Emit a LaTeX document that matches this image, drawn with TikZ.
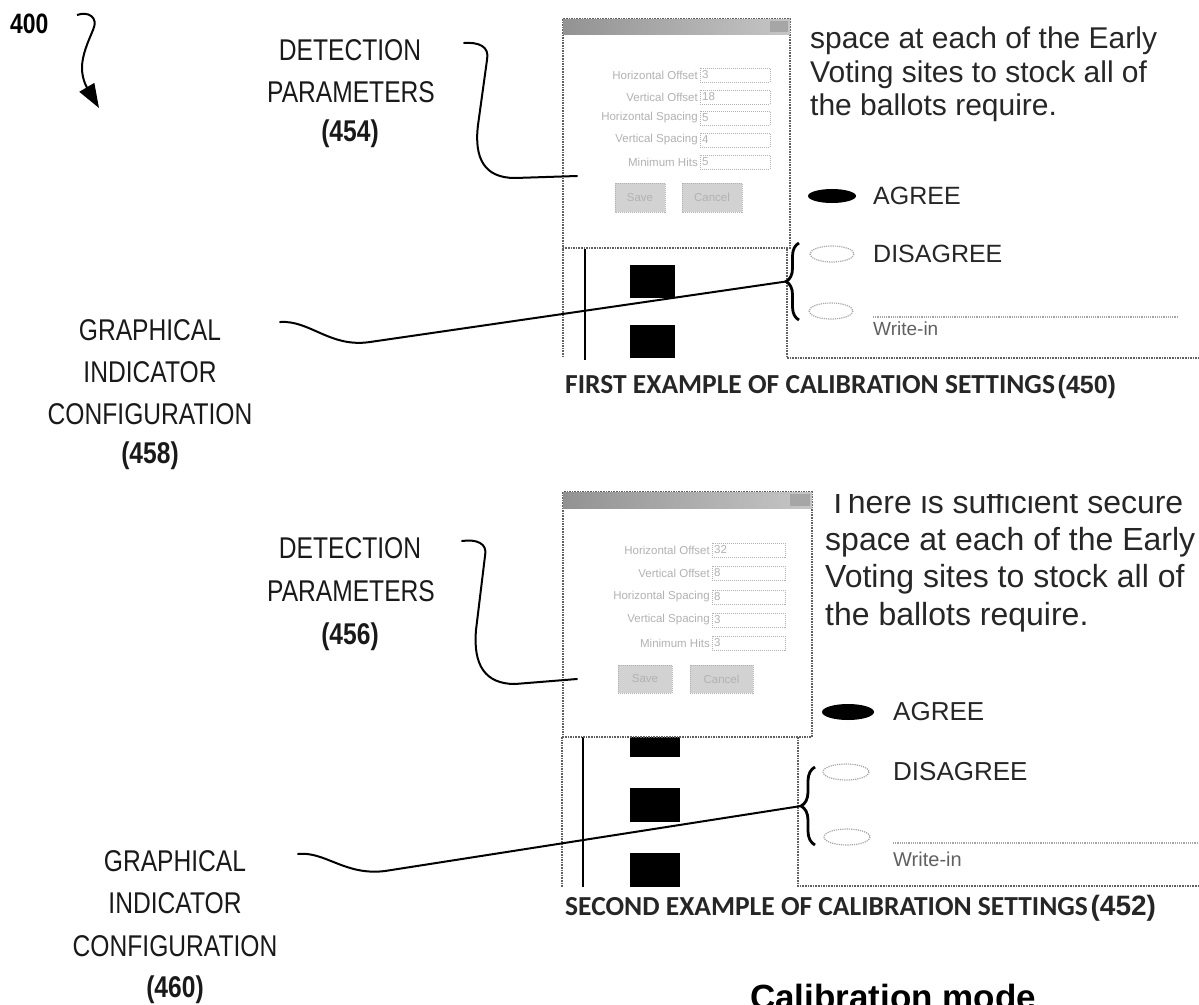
\documentclass[tikz,border=0pt]{standalone}
\usepackage{fontspec}
\setmainfont{Liberation Sans}
\newfontfamily\labelfont[FakeStretch=0.82]{Liberation Sans}
\newfontfamily\capfont{Carlito}
\usetikzlibrary{arrows.meta,decorations.pathreplacing}

\begin{document}
\begin{tikzpicture}[x=1pt,y=-1pt,
  frame/.style={draw=gray!75!black, densely dotted, line width=1.6},
  conn/.style={draw=black, line width=2, line cap=round, line join=round},
  blk/.style={fill=black},
  field/.style={draw=gray!60, densely dotted, line width=1},
  btn/.style={fill=gray!35, draw=gray!60, densely dotted, line width=1},
  tiny/.style={font=\fontsize{11.5}{11.5}\selectfont, text=gray!60, inner sep=0},
  lbl/.style={font=\labelfont\fontsize{30}{30}\selectfont, inner sep=0, text=black!90},
  lblb/.style={font=\labelfont\bfseries\fontsize{30}{30}\selectfont, inner sep=0, text=black!90},
  ballotA/.style={font=\fontsize{30}{30}\selectfont, inner sep=0, anchor=base west, text=black!85},
  ballotB/.style={font=\fontsize{32}{32}\selectfont, inner sep=0, anchor=base west, text=black!85},
  choiceA/.style={font=\fontsize{25}{25}\selectfont, inner sep=0, anchor=west, text=black!85},
  choiceB/.style={font=\fontsize{26}{26}\selectfont, inner sep=0, anchor=west, text=black!85},
  caption/.style={inner sep=0, anchor=base west, text=black!85},
  brace/.style={decorate, line width=2.8, draw=black},
]
\useasboundingbox (0,0) rectangle (1199,1004);

% ---------- reference numeral 400 ----------
\node[font=\labelfont\bfseries\fontsize{28}{28}\selectfont, inner sep=0, anchor=base west] (n400) at (10,33) {400};
\coordinate (a400s) at (77,15);
\coordinate (a400e) at (99,108);
\draw[line width=2, -{Triangle[length=24pt,width=17pt]}]
  (a400s) .. controls (88,11) and (99,17) .. (93,30)
          .. controls (88,42) and (82,55) .. (82,68)
          .. controls (82,78) and (86,86) .. (a400e);

% ================= first example (450) =================
% lower ballot strip
\draw[frame] (563,249) -- (563,358);
\draw[line width=1.8] (585,249) -- (585,360);
\fill[blk] (630,265) rectangle (675,298);
\fill[blk] (630,325) rectangle (675,358);
\draw[frame] (787,249) -- (787,358) -- (1199,358);

% dialog
\draw[frame, fill=white] (563,19) rectangle (790,248);
\shade[left color=gray!85, right color=gray!45] (563,19) rectangle (790,34);
\fill[gray!70] (770,21) rectangle (788,32);
\foreach \y/\lab/\val [count=\i] in {75/Horizontal Offset/3, 97/Vertical Offset/18, 118/Horizontal Spacing/5, 140/Vertical Spacing/4, 162/Minimum Hits/5} {
  \node[tiny, anchor=east] (pa\i) at (698,\y) {\lab};
  \draw[field] (700,\y-7) rectangle (770,\y+7);
  \node[tiny, anchor=west] (va\i) at (702,\y) {\val};
}
\draw[btn] (615,183) rectangle (665,212);
\node[tiny] (saveA) at (640,197.5) {Save};
\draw[btn] (682,183) rectangle (742,212);
\node[tiny] (cancelA) at (712,197.5) {Cancel};

% ballot text
\node[ballotA] (ta1) at (810,48) {space at each of the Early};
\node[ballotA] (ta2) at (810,82) {Voting sites to stock all of};
\node[ballotA] (ta3) at (810,115) {the ballots require.};

\fill[black] (832,196) ellipse [x radius=24, y radius=7];
\node[choiceA] (agreeA) at (873,196) {AGREE};
\draw[gray!70, densely dotted, line width=1.2] (832,254) ellipse [x radius=22, y radius=8];
\node[choiceA] (disA) at (873,254) {DISAGREE};
\draw[gray!70, densely dotted, line width=1.2] (831,311) ellipse [x radius=22, y radius=8];
\draw[gray!70, densely dotted, line width=1.2] (873,317) -- (1178,317);
\node[font=\fontsize{19}{19}\selectfont, text=gray!75!black, inner sep=0, anchor=base west] (wiA) at (873,335) {Write-in};

% brace grouping the unmarked choices
\draw[brace, decoration={brace, amplitude=13pt}] (799,320) -- (799,243);
\coordinate (b1tip) at (786,281.5);

\node[caption] (cap450) at (565,393)
  {{\capfont\bfseries\fontsize{27.5}{27.5}\selectfont FIRST EXAMPLE OF CALIBRATION SETTINGS} {\bfseries\fontsize{25}{25}\selectfont (450)}};

% callouts
\node[lbl] (d454a) at (350,50) {DETECTION};
\node[lbl] (d454b) at (351,92) {PARAMETERS};
\node[lblb] (d454c) at (350,134) {(454)};
\coordinate (c454s) at (464,43);
\coordinate (c454e) at (577,176);
\draw[conn] (c454s) .. controls (478,42) and (490,46) .. (487,60) -- (478,125)
   .. controls (474,158) and (484,178) .. (515,178) -- (c454e);

\node[lbl] (g458a) at (150,330) {GRAPHICAL};
\node[lbl] (g458b) at (150,372) {INDICATOR};
\node[lbl] (g458c) at (150,414) {CONFIGURATION};
\node[lblb] (g458d) at (150,456) {(458)};
\coordinate (c458s) at (280,322);
\draw[conn] (c458s) .. controls (310,320) and (330,348) .. (370,342) -- (b1tip);

% ================= second example (452) =================
\draw[frame] (562,737) -- (562,887);
\draw[line width=1.8] (583,737) -- (583,887);
\fill[blk] (630,737) rectangle (680,757);
\fill[blk] (630,788) rectangle (680,822);
\fill[blk] (630,853) rectangle (680,887);
\draw[frame] (798,737) -- (798,886) -- (1199,886);

\draw[frame, fill=white] (563,492) rectangle (812,737);
\shade[left color=gray!85, right color=gray!45] (563,492) rectangle (812,508);
\fill[gray!70] (790,494) rectangle (810,506);
\foreach \y/\lab/\val [count=\i] in {550/Horizontal Offset/32, 573/Vertical Offset/8, 597/Horizontal Spacing/8, 620/Vertical Spacing/3, 643/Minimum Hits/3} {
  \node[tiny, anchor=east] (pb\i) at (710,\y) {\lab};
  \draw[field] (712,\y-7) rectangle (785,\y+7);
  \node[tiny, anchor=west] (vb\i) at (714,\y) {\val};
}
\draw[btn] (618,665) rectangle (672,693);
\node[tiny] (saveB) at (645,679) {Save};
\draw[btn] (690,665) rectangle (753,693);
\node[tiny] (cancelB) at (721.5,679) {Cancel};

\begin{scope}
  \clip (813,494.5) rectangle (1199,540);
  \node[ballotB] (tb1) at (828,513) {There is sufficient secure};
\end{scope}
\node[ballotB] (tb2) at (825,550) {space at each of the Early};
\node[ballotB] (tb3) at (825,587) {Voting sites to stock all of};
\node[ballotB] (tb4) at (825,625) {the ballots require.};

\fill[black] (848,712) ellipse [x radius=26, y radius=8];
\node[choiceB] (agreeB) at (893,712) {AGREE};
\draw[gray!70, densely dotted, line width=1.2] (846,772) ellipse [x radius=23, y radius=8];
\node[choiceB] (disB) at (893,772) {DISAGREE};
\draw[gray!70, densely dotted, line width=1.2] (847,837) ellipse [x radius=23, y radius=8];
\draw[gray!70, densely dotted, line width=1.2] (893,843) -- (1199,843);
\node[font=\fontsize{20}{20}\selectfont, text=gray!75!black, inner sep=0, anchor=base west] (wiB) at (893,866) {Write-in};

\draw[brace, decoration={brace, amplitude=14pt}] (815,845) -- (815,767);
\coordinate (b2tip) at (801,806);

\node[caption] (cap452) at (565,915)
  {{\capfont\bfseries\fontsize{27.5}{27.5}\selectfont SECOND EXAMPLE OF CALIBRATION SETTINGS} {\bfseries\fontsize{28}{28}\selectfont (452)}};

\node[lbl] (d456a) at (350,548) {DETECTION};
\node[lbl] (d456b) at (351,591) {PARAMETERS};
\node[lblb] (d456c) at (350,637) {(456)};
\coordinate (c456s) at (462,541);
\coordinate (c456e) at (577,679);
\draw[conn] (c456s) .. controls (476,539) and (488,543) .. (485,556) -- (476,630)
   .. controls (473,665) and (485,684) .. (515,684) -- (c456e);

\node[lbl] (g460a) at (175,861) {GRAPHICAL};
\node[lbl] (g460b) at (175,903) {INDICATOR};
\node[lbl] (g460c) at (175,946) {CONFIGURATION};
\node[lblb] (g460d) at (175,990) {(460)};
\coordinate (c460s) at (298,854);
\draw[conn] (c460s) .. controls (325,851) and (345,876) .. (385,871) -- (b2tip);

% figure title, running off the lower edge
\begin{scope}
  \clip (0,0) rectangle (1199,1004);
  \node[font=\bfseries\fontsize{35}{35}\selectfont, inner sep=0, anchor=base west] (title) at (750,1009) {Calibration mode};
\end{scope}
\end{tikzpicture}
\end{document}
